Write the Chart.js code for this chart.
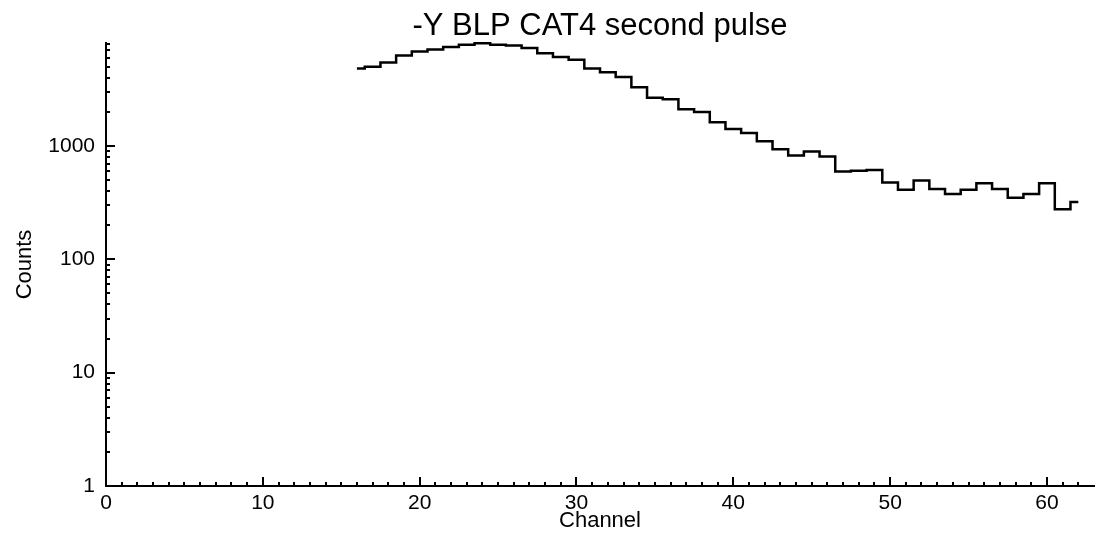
<!DOCTYPE html>
<html lang="en">
<head>
<meta charset="UTF-8">
<title>-Y BLP CAT4 second pulse</title>
<script src="https://cdn.jsdelivr.net/npm/chart.js@4"></script>
<style>
  html, body { margin: 0; padding: 0; background: #fff; }
  #chart { display: block; }
</style>
</head>
<body>
<canvas id="chart" width="1102" height="550"></canvas>
<script>
// histogram bins (channel -> counts)
const channels = [16, 17, 18, 19, 20, 21, 22, 23, 24, 25, 26, 27, 28, 29, 30,
  31, 32, 33, 34, 35, 36, 37, 38, 39, 40, 41, 42, 43, 44, 45, 46,
  47, 48, 49, 50, 51, 52, 53, 54, 55, 56, 57, 58, 59, 60, 61, 62];
const counts = [4820, 4990, 5450, 6280, 6810, 7100, 7450, 7800, 8050, 7800, 7690, 7300, 6590, 6080, 5750,
  4820, 4480, 4050, 3300, 2670, 2590, 2110, 1990, 1620, 1410, 1300, 1100, 937, 823, 893, 806,
  594, 603, 615, 477, 410, 497, 417, 376, 410, 470, 417, 350, 376, 470, 277, 320];

const xTickLabels = [0, 10, 20, 30, 40, 50, 60];
const yTickLabels = [1, 10, 100, 1000];
const xMin = 0, xMax = 63;
const yMin = 1, yMax = 8100;

const FONT = "'Liberation Sans', Arial, Helvetica, sans-serif";

// IDL style ticks: pointing into the plot, majors longer than minors
const tickMarks = {
  id: 'tickMarks',
  afterLayout(chart) {
    // centre the title over the plot area, not the whole canvas
    const tb = chart.titleBlock;
    if (tb) {
      tb.left = chart.chartArea.left;
      tb.right = chart.chartArea.right;
    }
  },
  afterDraw(chart) {
    const { ctx, chartArea: area } = chart;
    const xs = chart.scales.x;
    const ys = chart.scales.y;
    ctx.save();
    ctx.strokeStyle = '#000';
    ctx.lineWidth = 2;
    ctx.beginPath();
    for (let v = xMin + 1; v < xMax; v++) {
      const px = Math.round(xs.getPixelForValue(v));
      const len = v % 10 === 0 ? 9 : 4;
      ctx.moveTo(px, area.bottom);
      ctx.lineTo(px, area.bottom - len);
    }
    for (let dec = 1; dec <= yMax; dec *= 10) {
      for (let m = 1; m <= 9; m++) {
        const v = dec * m;
        if (v > yMax) break;
        if (v === yMin) continue;
        const py = Math.round(ys.getPixelForValue(v));
        const len = m === 1 ? 9 : 4;
        ctx.moveTo(area.left, py);
        ctx.lineTo(area.left + len, py);
      }
    }
    ctx.stroke();
    ctx.restore();
  }
};

new Chart(document.getElementById('chart'), {
  type: 'line',
  data: {
    datasets: [{
      data: channels.map((c, i) => ({ x: c, y: counts[i] })),
      stepped: 'middle',
      borderColor: '#000',
      borderWidth: 2.5,
      pointRadius: 0,
      fill: false,
      clip: 4
    }]
  },
  options: {
    responsive: false,
    animation: false,
    layout: { padding: { left: 0, right: 8, top: 0, bottom: 0 } },
    plugins: {
      legend: { display: false },
      tooltip: { enabled: false },
      title: {
        display: true,
        text: '-Y BLP CAT4 second pulse',
        color: '#000',
        font: { family: FONT, size: 31, weight: 'normal', lineHeight: 1 },
        padding: { top: 11, bottom: 1 }
      }
    },
    scales: {
      x: {
        type: 'linear',
        min: xMin,
        max: xMax,
        grid: { display: false, drawTicks: false },
        border: { display: true, color: '#000', width: 2 },
        afterBuildTicks: s => { s.ticks = xTickLabels.map(v => ({ value: v })); },
        afterFit: s => { s.height = 64; },
        ticks: {
          color: '#000',
          padding: 5,
          maxRotation: 0,
          font: { family: FONT, size: 21 },
          callback: v => String(v)
        },
        title: {
          display: true,
          text: 'Channel',
          color: '#000',
          font: { family: FONT, size: 22 },
          padding: { top: 0, bottom: 16 }
        }
      },
      y: {
        type: 'logarithmic',
        min: yMin,
        max: yMax,
        grid: { display: false, drawTicks: false },
        border: { display: true, color: '#000', width: 2 },
        afterBuildTicks: s => { s.ticks = yTickLabels.map(v => ({ value: v })); },
        afterFit: s => { s.width = 106; },
        ticks: {
          color: '#000',
          padding: 11,
          font: { family: FONT, size: 21 },
          callback: v => String(v)
        },
        title: {
          display: true,
          text: 'Counts',
          color: '#000',
          font: { family: FONT, size: 22 },
          padding: { top: 12, bottom: 0 }
        }
      }
    }
  },
  plugins: [tickMarks]
});
</script>
</body>
</html>
